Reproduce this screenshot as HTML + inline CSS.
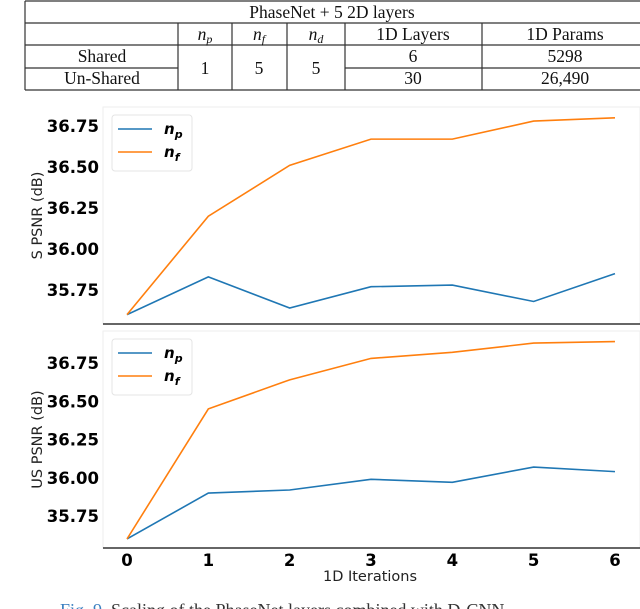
<!DOCTYPE html>
<html><head><meta charset="utf-8"><style>
body{margin:0;background:#fff;width:640px;height:609px;overflow:hidden}
svg{display:block}
.tb{font-family:"Liberation Serif",serif;font-size:17.5px;fill:#111}
.tk{font-family:"DejaVu Sans",sans-serif;font-weight:bold;font-size:16.5px;fill:#000}
.lb{font-family:"DejaVu Sans",sans-serif;font-size:14.5px;fill:#222}
</style></head><body>
<svg id="chart" width="640" height="609">
<g stroke="#333" stroke-width="1.2">
<line x1="25" y1="1" x2="640" y2="1"/><line x1="25" y1="23" x2="640" y2="23"/>
<line x1="25" y1="45" x2="640" y2="45"/><line x1="25" y1="68" x2="178" y2="68"/>
<line x1="345" y1="68" x2="640" y2="68"/><line x1="25" y1="90" x2="640" y2="90"/>
<line x1="25" y1="1" x2="25" y2="90"/><line x1="178" y1="23" x2="178" y2="90"/>
<line x1="232" y1="23" x2="232" y2="90"/><line x1="287" y1="23" x2="287" y2="90"/>
<line x1="345" y1="23" x2="345" y2="90"/><line x1="482" y1="23" x2="482" y2="90"/>
</g>
<g class="tb" text-anchor="middle">
<text x="332" y="18">PhaseNet + 5 2D layers</text>
<text x="205" y="40" font-style="italic">n<tspan font-size="12" dy="3">p</tspan></text>
<text x="259" y="40" font-style="italic">n<tspan font-size="12" dy="3">f</tspan></text>
<text x="316" y="40" font-style="italic">n<tspan font-size="12" dy="3">d</tspan></text>
<text x="413" y="40">1D Layers</text><text x="565" y="40">1D Params</text>
<text x="102" y="62">Shared</text><text x="102" y="84">Un-Shared</text>
<text x="205" y="74">1</text><text x="259" y="74">5</text><text x="316" y="74">5</text>
<text x="413" y="62">6</text><text x="565" y="62">5298</text>
<text x="413" y="84">30</text><text x="565" y="84">26,490</text>
</g>
<g id="top"></g>
<g id="bot"></g>
<text class="lb" x="370" y="581" text-anchor="middle" font-size="15.5">1D Iterations</text>
<text x="60" y="616" font-family="Liberation Serif,serif" font-size="18" fill="#333"><tspan fill="#3a7fc0">Fig. 9.</tspan> Scaling of the PhaseNet layers combined with D-CNN</text>
</svg>
<script>
const iterations=[0,1,2,3,4,5,6];
const yTicks=[35.75,36.00,36.25,36.50,36.75];
const yTickLabels=["35.75","36.00","36.25","36.50","36.75"];
const sharedNp=[35.60,35.83,35.64,35.77,35.78,35.68,35.85];
const sharedNf=[35.60,36.20,36.51,36.67,36.67,36.78,36.80];
const unsharedNp=[35.60,35.90,35.92,35.99,35.97,36.07,36.04];
const unsharedNf=[35.60,36.45,36.64,36.78,36.82,36.88,36.89];
const NS='http://www.w3.org/2000/svg';
function mk(p,t,a){const e=document.createElementNS(NS,t);for(const k in a)e.setAttribute(k,a[k]);p.appendChild(e);return e;}
const xs=v=>127+v*81.33;
function panel(g,cfg,np,nf,label){
  const ys=v=>cfg.y0+(v-35.75)*cfg.k;
  const fr=mk(g,'rect',{x:103,y:cfg.top,width:537,height:cfg.bottom-cfg.top,fill:'none',stroke:'#eee'});
  
  
  const sp=mk(g,'line',{x1:103,x2:640,y1:cfg.bottom,y2:cfg.bottom,stroke:'#333','stroke-width':1.5});
  
  
  yTicks.forEach((t,i)=>{
    const tx=mk(g,'text',{x:99,y:ys(t)+6,'text-anchor':'end',class:'tk'});tx.textContent=yTickLabels[i];
    
    
  });
  if(cfg.xt){iterations.forEach(v=>{
    const tx=mk(g,'text',{x:xs(v),y:cfg.bottom+18,'text-anchor':'middle',class:'tk'});tx.textContent=v;
    
    
  });}
  const yl=mk(g,'text',{class:'lb',x:0,y:0,'text-anchor':'middle',transform:`translate(42,${(cfg.top+cfg.bottom)/2}) rotate(-90)`});
  yl.textContent=label;
  
  
  [[np,'#1f77b4','np'],[nf,'#ff7f0e','nf']].forEach(([d,c,n])=>{
    const pl=mk(g,'polyline',{points:d.map((v,i)=>xs(iterations[i])+','+ys(v)).join(' '),fill:'none',stroke:c,'stroke-width':1.6});
    
    
  });
  const lg=mk(g,'g',{});
  
  
  mk(lg,'rect',{x:112,y:cfg.top+8,width:80,height:56,rx:3,fill:'#fff',stroke:'#e4e4e4'});
  [['#1f77b4','p',0],['#ff7f0e','f',1]].forEach(([c,s,i])=>{
    const yy=cfg.top+22+i*23;
    mk(lg,'line',{x1:118,x2:152,y1:yy,y2:yy,stroke:c,'stroke-width':1.6});
    const t=mk(lg,'text',{x:164,y:yy+5,'font-family':'DejaVu Sans,sans-serif','font-weight':'bold','font-style':'italic','font-size':'15'});
    t.innerHTML='n<tspan font-size="11" dy="4">'+s+'</tspan>';
  });
}
panel(document.getElementById('top'),{top:107,bottom:324,y0:290,k:-164,xt:false},sharedNp,sharedNf,'S PSNR (dB)');
panel(document.getElementById('bot'),{top:331,bottom:548,y0:516,k:-153,xt:true},unsharedNp,unsharedNf,'US PSNR (dB)');
</script>
</body></html>
